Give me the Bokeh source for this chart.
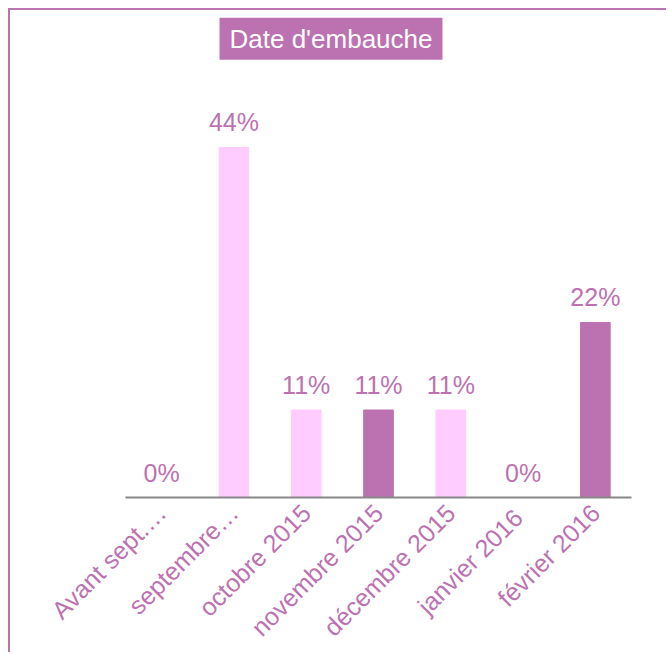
from math import pi
from bokeh.plotting import figure
from bokeh.models import ColumnDataSource, Label
from bokeh.core.properties import value
from bokeh.embed import file_html
from bokeh.resources import INLINE

categories = ["Avant sept.…", "septembre…", "octobre 2015", "novembre 2015",
              "décembre 2015", "janvier  2016", "février 2016"]
percents = [0.0, 44.44, 11.11, 11.11, 11.11, 0.0, 22.22]
labels = ["0%", "44%", "11%", "11%", "11%", "0%", "22%"]
PINK = "#FFCCFF"
PURPLE = "#BC72B0"
colors = [PURPLE, PINK, PINK, PURPLE, PINK, PURPLE, PURPLE]
title_text = "Date d'embauche"

FONT = "Liberation Sans"

source = ColumnDataSource(dict(cat=categories, val=percents, lab=labels, col=colors))

p = figure(x_range=categories, y_range=(0, 61.83), width=658, height=644,
           output_backend="svg", toolbar_location=None,
           min_border_left=115, min_border_right=37, min_border_bottom=140,
           min_border_top=0)
p.styles = {"border-left": "2px solid " + PURPLE, "border-top": "2px solid " + PURPLE,
            "margin-left": "8px", "margin-top": "8px"}

p.vbar(x="cat", top="val", width=0.41, color="col", source=source)
p.text(x="cat", y="val", text="lab", source=source, text_align="center",
       text_baseline="bottom", y_offset=-11, text_font=value(FONT),
       text_font_size="25px", text_color=PURPLE)

p.add_layout(Label(x=2.843, y=60.9,
                   text=title_text, text_align="center", text_baseline="top",
                   text_font=FONT, text_font_size="26px", text_color="white",
                   background_fill_color=PURPLE, padding=(10, 6)))

p.yaxis.visible = False
p.xgrid.grid_line_color = None
p.ygrid.grid_line_color = None
p.outline_line_color = None
p.xaxis.axis_line_color = "#888888"
p.xaxis.axis_line_width = 2
p.xaxis.major_tick_line_color = None
p.xaxis.minor_tick_line_color = None
p.xaxis.major_tick_out = 0
p.xaxis.minor_tick_out = 0
p.xaxis.major_label_orientation = pi / 4
p.xaxis.major_label_text_font = FONT
p.xaxis.major_label_text_font_size = "25px"
p.xaxis.major_label_text_color = PURPLE
p.xaxis.major_label_standoff = 11

open("out.html", "w").write(file_html(p, INLINE))
